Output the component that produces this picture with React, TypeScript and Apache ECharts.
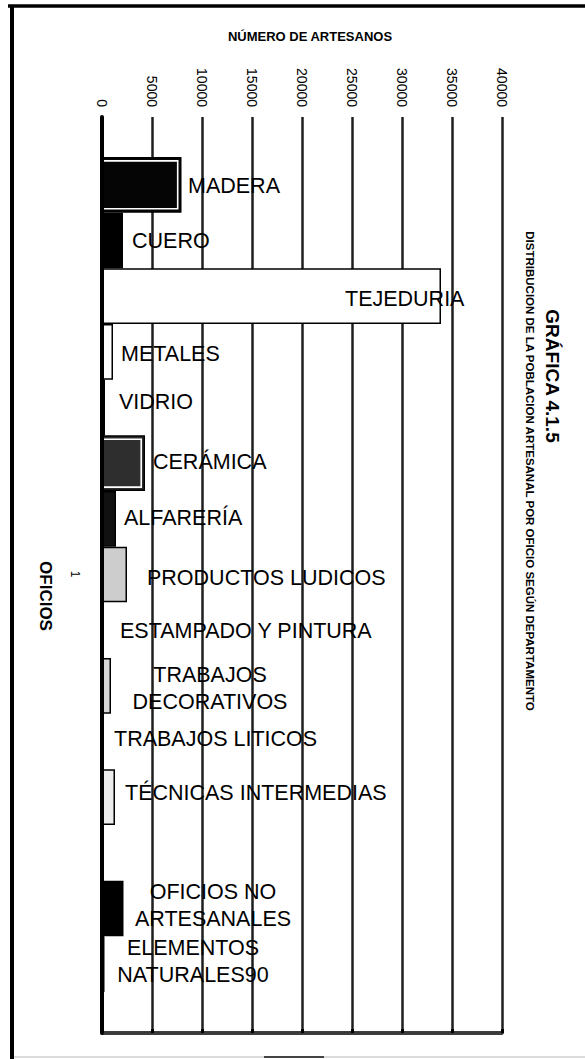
import React, { useEffect, useRef } from "react";
import * as echarts from "echarts";

// ---------- data ----------
const categories = [
  "MADERA",
  "CUERO",
  "TEJEDURIA",
  "METALES",
  "VIDRIO",
  "CERÁMICA",
  "ALFARERÍA",
  "PRODUCTOS LUDICOS",
  "ESTAMPADO Y PINTURA",
  "TRABAJOS DECORATIVOS",
  "TRABAJOS LITICOS",
  "TÉCNICAS INTERMEDIAS",
  "",
  "OFICIOS NO ARTESANALES",
  "ELEMENTOS NATURALES",
];
const artesanos = [7950, 2100, 33900, 1100, 300, 4300, 1400, 2500, 200, 900, 200, 1300, 0, 2150, 250];
const barLabels = [
  "MADERA",
  "CUERO",
  "TEJEDURIA",
  "METALES",
  "VIDRIO",
  "CERÁMICA",
  "ALFARERÍA",
  "PRODUCTOS LUDICOS",
  "ESTAMPADO Y PINTURA",
  "TRABAJOS\nDECORATIVOS",
  "TRABAJOS LITICOS",
  "TÉCNICAS INTERMEDIAS",
  "",
  "OFICIOS NO\nARTESANALES",
  "ELEMENTOS\nNATURALES90",
];
const valueMin = 0;
const valueMax = 40000;
const valueStep = 5000;

const titleText = "GRÁFICA 4.1.5";
const subtitleText = "DISTRIBUCION DE LA POBLACION ARTESANAL POR OFICIO SEGÚN DEPARTAMENTO";
const valueAxisTitle = "NÚMERO DE ARTESANOS";
const categoryAxisTitle = "OFICIOS";

// ---------- styles ----------
const FONT = "'Liberation Sans', Arial, Helvetica, sans-serif";
const GRID_LEFT = 102;
const GRID_WIDTH = 400;
const FRAME_TOP = 117;
const FRAME_BOTTOM = 1033;
const BARS_TOP = 157;
const BARS_BOTTOM = 992;

const barFills = [
  "#050505", "#000000", "#ffffff", "#ffffff", "#000000", "#2e2e2e", "#111111",
  "#cdcdcd", "#000000", "#d6d6d6", "#000000", "#ececec", "#000000", "#000000", "#000000",
];
const framed = [true, false, false, false, false, true, false, false, false, false, false, false, false, false, false];
// label anchor: [x (px), vertical shift (px), align]
const labelPlacement: [number, number, string][] = [
  [188, 1, "left"],
  [132, 0, "left"],
  [345, 3, "left"],
  [121, 2, "left"],
  [119, -6, "left"],
  [153, -1, "left"],
  [124, -1, "left"],
  [147, 3, "left"],
  [120, 1, "left"],
  [210, 3, "center"],
  [114, -3, "left"],
  [125, -4, "left"],
  [0, 0, "left"],
  [213, -3, "center"],
  [193, -3, "center"],
];

export default function App() {
  const ref = useRef<HTMLDivElement>(null);

  useEffect(() => {
    if (!ref.current) return;
    const chart = echarts.init(ref.current, null, { renderer: "svg" });

    const mainData = artesanos.map((v, i) => {
      const [ax, dy, align] = labelPlacement[i];
      return {
        value: v,
        itemStyle: {
          color: barFills[i],
          borderColor: "#000",
          borderWidth: v === 0 ? 0 : 1.5,
        },
        label: {
          show: barLabels[i] !== "",
          formatter: barLabels[i],
          position: "insideLeft",
          distance: 0,
          offset: [ax - GRID_LEFT, dy],
          align,
          verticalAlign: "middle",
          color: "#000",
          fontFamily: FONT,
          fontSize: 21.5,
          lineHeight: 27,
        },
      };
    });
    const frameData = artesanos.map((v, i) => (framed[i] ? v : "-"));

    const option: any = {
      animation: false,
      backgroundColor: "#ffffff",
      grid: [
        { left: GRID_LEFT, width: GRID_WIDTH, top: FRAME_TOP, height: FRAME_BOTTOM - FRAME_TOP },
        { left: GRID_LEFT, width: GRID_WIDTH, top: BARS_TOP, height: BARS_BOTTOM - BARS_TOP },
        { left: GRID_LEFT - 3, width: GRID_WIDTH, top: BARS_TOP, height: BARS_BOTTOM - BARS_TOP },
      ],
      xAxis: [
        {
          gridIndex: 0,
          type: "value",
          position: "top",
          min: valueMin,
          max: valueMax,
          interval: valueStep,
          axisLine: { show: true, lineStyle: { color: "#000", width: 3.5 } },
          axisTick: { show: true, length: 4, lineStyle: { color: "#000", width: 3 } },
          splitLine: { show: true, lineStyle: { color: "#1e1e1e", width: 2.5 } },
          axisLabel: {
            rotate: -90,
            margin: 10,
            color: "#000",
            fontFamily: FONT,
            fontSize: 14,
            formatter: (v: number) => String(v),
          },
        },
        {
          gridIndex: 0,
          type: "value",
          position: "bottom",
          min: valueMin,
          max: valueMax,
          interval: valueStep,
          axisLine: { show: true, lineStyle: { color: "#3a3a3a", width: 2 } },
          axisTick: { show: false },
          axisLabel: { show: false },
          splitLine: { show: false },
        },
        { gridIndex: 1, type: "value", min: valueMin, max: valueMax, show: false },
        { gridIndex: 2, type: "value", min: valueMin, max: valueMax, show: false },
      ],
      yAxis: [
        {
          gridIndex: 0,
          type: "value",
          min: 0,
          max: 1,
          z: 10,
          axisLine: { show: true, lineStyle: { color: "#000", width: 4 } },
          axisTick: { show: false },
          axisLabel: { show: false },
          splitLine: { show: false },
        },
        { gridIndex: 1, type: "category", inverse: true, data: categories, show: false },
        { gridIndex: 2, type: "category", inverse: true, data: categories, show: false },
      ],
      series: [
        {
          type: "bar",
          xAxisIndex: 2,
          yAxisIndex: 1,
          barCategoryGap: "0%",
          data: mainData,
        },
        {
          type: "bar",
          xAxisIndex: 3,
          yAxisIndex: 2,
          barCategoryGap: "11%",
          data: frameData,
          itemStyle: { color: "rgba(0,0,0,0)", borderColor: "#ffffff", borderWidth: 1.6 },
          label: { show: false },
          silent: true,
        },
      ],
      graphic: [
        // page border
        { type: "line", shape: { x1: 12, y1: 5, x2: 12, y2: 1059 }, style: { stroke: "#000", lineWidth: 4 } },
        { type: "line", shape: { x1: 8, y1: 6, x2: 585, y2: 6 }, style: { stroke: "#000", lineWidth: 3.5 } },
        { type: "line", shape: { x1: 14, y1: 1057, x2: 585, y2: 1057 }, style: { stroke: "#cfcfcf", lineWidth: 1.5 } },
        { type: "line", shape: { x1: 264, y1: 1057, x2: 324, y2: 1057 }, style: { stroke: "#444", lineWidth: 2 } },
        // value axis title
        {
          type: "text",
          x: 310,
          y: 36,
          style: {
            text: valueAxisTitle,
            align: "center",
            verticalAlign: "middle",
            font: `bold 13px ${FONT}`,
            fill: "#000",
          },
        },
        // category axis title
        {
          type: "text",
          x: 45,
          y: 596,
          rotation: -Math.PI / 2,
          style: {
            text: categoryAxisTitle,
            align: "center",
            verticalAlign: "middle",
            font: `bold 17px ${FONT}`,
            fill: "#000",
          },
        },
        {
          type: "text",
          x: 75,
          y: 574,
          rotation: -Math.PI / 2,
          style: {
            text: "1",
            align: "center",
            verticalAlign: "middle",
            font: `12px ${FONT}`,
            fill: "#000",
          },
        },
        // titles
        {
          type: "text",
          x: 552,
          y: 376,
          rotation: -Math.PI / 2,
          style: {
            text: titleText,
            align: "center",
            verticalAlign: "middle",
            font: `bold 19px ${FONT}`,
            fill: "#000",
          },
        },
        {
          type: "text",
          x: 530,
          y: 471,
          rotation: -Math.PI / 2,
          style: {
            text: subtitleText,
            align: "center",
            verticalAlign: "middle",
            font: `bold 11.5px ${FONT}`,
            fill: "#000",
          },
        },
      ],
    };

    chart.setOption(option);
    return () => chart.dispose();
  }, []);

  return (
    <div
      ref={ref}
      style={{ position: "fixed", left: 0, top: 0, width: 585, height: 1059, background: "#fff" }}
    />
  );
}
